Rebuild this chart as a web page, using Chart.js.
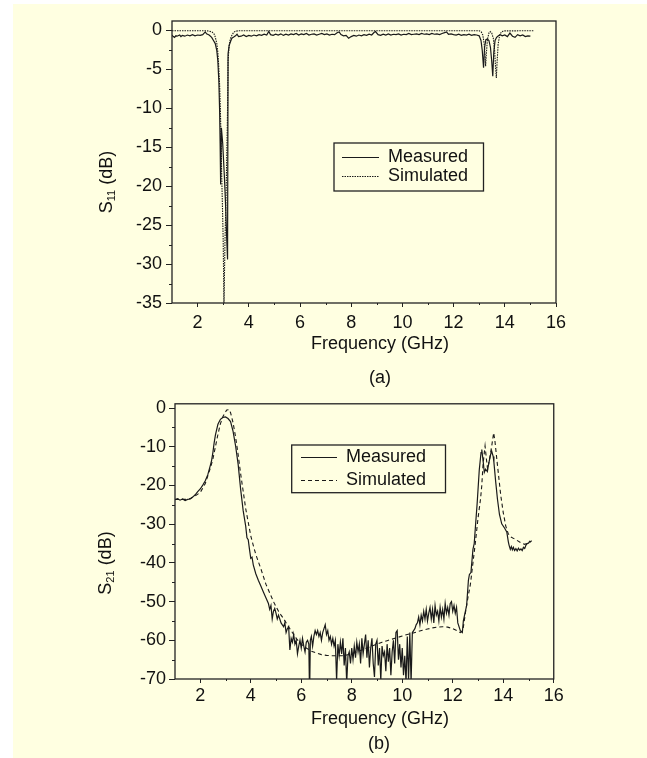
<!DOCTYPE html>
<html>
<head>
<meta charset="utf-8">
<script src="https://cdn.jsdelivr.net/npm/chart.js@4.4.0/dist/chart.umd.min.js"></script>
<style>
  html, body { margin:0; padding:0; background:#ffffff; width:647px; height:758px; overflow:hidden; }
  #bg { position:absolute; left:13px; top:4px; width:634px; height:754px; background:#FFFFE1; }
  .cv { position:absolute; left:0; }
  .lbl { position:absolute; font-family:"Liberation Sans", Arial, sans-serif; font-size:18px; color:#111;
         white-space:nowrap; line-height:1; transform:translate(-50%,-50%); }
  .rot { transform:translate(-50%,-50%) rotate(-90deg); }
  .lbl sub { font-size:11px; vertical-align:-3px; line-height:0; }
</style>
</head>
<body>
<div id="bg"></div>
<canvas id="c1" class="cv" style="top:0px" width="647" height="390"></canvas>
<canvas id="c2" class="cv" style="top:390px" width="647" height="368"></canvas>

<div class="lbl rot" style="left:106px;top:182px">S<sub>11</sub> (dB)</div>
<div class="lbl" style="left:380px;top:343px">Frequency (GHz)</div>
<div class="lbl" style="left:380px;top:377px">(a)</div>
<div class="lbl rot" style="left:105px;top:563px">S<sub>21</sub> (dB)</div>
<div class="lbl" style="left:380px;top:718px">Frequency (GHz)</div>
<div class="lbl" style="left:379px;top:743px">(b)</div>

<script>
// ---------------- DATA ----------------
const xMajorTicks = [2, 4, 6, 8, 10, 12, 14, 16];
const xMinorTicks = [3, 5, 7, 9, 11, 13, 15];
const s11MajorTicks = [-35, -30, -25, -20, -15, -10, -5, 0];
const s11MinorTicks = [-32.5, -27.5, -22.5, -17.5, -12.5, -7.5, -2.5];
const s21MajorTicks = [-70, -60, -50, -40, -30, -20, -10, 0];
const s21MinorTicks = [-65, -55, -45, -35, -25, -15, -5];
const seriesNames = ["Measured", "Simulated"];

// S11 measured [GHz, dB]
const s11Measured = [
  [1.0,-0.6],[1.05,-0.8],[1.1,-0.9],[1.15,-0.7],[1.2,-0.75],[1.3,-0.6],[1.35,-0.8],[1.4,-0.65],[1.5,-0.75],
  [1.6,-0.6],[1.7,-0.7],[1.8,-0.55],[1.9,-0.7],[2.0,-0.6],[2.1,-0.65],[2.2,-0.55],[2.3,-0.2],[2.35,-0.45],
  [2.45,-0.6],[2.55,-0.9],[2.62,-1.3],[2.69,-1.7],[2.75,-2.6],[2.79,-3.9],[2.83,-6.5],[2.86,-10.3],[2.88,-14.5],
  [2.9,-19.8],[2.93,-12.5],[2.98,-14.5],[3.05,-19],[3.1,-23],[3.14,-27],[3.17,-29.4],[3.19,-3.0],[3.23,-2.0],
  [3.28,-1.5],[3.34,-1.0],[3.41,-0.86],[3.48,-0.7],[3.54,-0.5],[3.6,-0.8],[3.7,-0.75],[3.8,-0.6],[3.9,-0.8],
  [4.0,-0.65],[4.1,-0.75],[4.2,-0.6],[4.3,-0.7],[4.4,-0.55],[4.5,-0.65],[4.6,-0.5],[4.7,-0.6],[4.78,-0.15],
  [4.85,-0.55],[4.95,-0.65],[5.05,-0.5],[5.15,-0.6],[5.25,-0.45],[5.35,-0.65],[5.45,-0.5],[5.55,-0.6],[5.65,-0.45],
  [5.75,-0.55],[5.85,-0.4],[5.95,-0.6],[6.05,-0.45],[6.15,-0.55],[6.25,-0.4],[6.35,-0.6],[6.45,-0.5],[6.55,-0.45],
  [6.65,-0.6],[6.75,-0.5],[6.85,-0.4],[6.95,-0.55],[7.05,-0.45],[7.15,-0.6],[7.25,-0.5],[7.35,-0.55],[7.45,-0.3],
  [7.53,-0.2],[7.6,-0.55],[7.7,-0.7],[7.8,-0.65],[7.9,-1.0],[8.0,-0.8],[8.1,-0.65],[8.2,-0.75],[8.3,-0.6],
  [8.4,-0.7],[8.5,-0.55],[8.6,-0.65],[8.7,-0.5],[8.8,-0.6],[8.9,-0.25],[8.95,-0.15],[9.05,-0.55],[9.15,-0.65],
  [9.25,-0.5],[9.35,-0.6],[9.45,-0.45],[9.55,-0.6],[9.65,-0.5],[9.75,-0.55],[9.85,-0.45],[9.95,-0.6],[10.05,-0.5],
  [10.15,-0.55],[10.25,-0.4],[10.35,-0.55],[10.45,-0.5],[10.55,-0.45],[10.65,-0.55],[10.75,-0.4],[10.85,-0.5],
  [10.95,-0.45],[11.05,-0.55],[11.15,-0.4],[11.25,-0.5],[11.35,-0.45],[11.45,-0.55],[11.55,-0.4],[11.65,-0.3],
  [11.72,-0.2],[11.8,-0.5],[11.9,-0.45],[12.0,-0.55],[12.1,-0.6],[12.2,-0.5],[12.3,-0.65],[12.4,-0.55],[12.5,-0.6],
  [12.6,-0.5],[12.7,-0.65],[12.8,-0.55],[12.9,-0.6],[13.0,-0.7],[13.07,-1.3],[13.12,-2.6],[13.17,-4.8],[13.21,-2.2],
  [13.26,-1.2],[13.32,-1.1],[13.38,-1.3],[13.44,-2.2],[13.49,-4.0],[13.53,-5.9],[13.57,-2.8],[13.62,-1.3],
  [13.68,-0.9],[13.75,-0.7],[13.82,-0.55],[13.9,-0.7],[14.0,-0.6],[14.1,-0.8],[14.2,-0.35],[14.3,-0.75],
  [14.4,-0.9],[14.5,-0.55],[14.6,-0.7],[14.7,-0.6],[14.8,-0.8],[14.9,-0.7],[15.0,-0.75]
];

// S11 simulated [GHz, dB]
const s11Simulated = [
  [1.0,-0.05],[2.3,-0.05],[2.45,-0.1],[2.56,-0.2],[2.64,-0.45],[2.69,-0.86],[2.75,-1.7],[2.79,-2.8],[2.82,-4.3],
  [2.86,-7.0],[2.89,-10.3],[2.92,-14.5],[2.94,-18.4],[2.97,-22.5],[3.0,-27],[3.03,-35.5],[3.07,-27],[3.1,-23],
  [3.12,-19.8],[3.14,-16],[3.16,-12.4],[3.18,-7.5],[3.19,-3.9],[3.24,-1.7],[3.29,-1.0],[3.34,-0.64],[3.4,-0.3],
  [3.47,-0.12],[3.6,-0.05],[13.0,-0.05],[13.08,-0.2],[13.14,-0.6],[13.19,-1.6],[13.23,-3.2],[13.25,-4.6],
  [13.28,-3.0],[13.32,-1.2],[13.38,-0.35],[13.43,-0.15],[13.49,-0.35],[13.55,-1.0],[13.6,-2.5],[13.64,-4.8],
  [13.67,-6.1],[13.7,-4.0],[13.74,-1.8],[13.8,-0.6],[13.87,-0.2],[13.95,-0.07],[15.15,-0.05]
];

// S21 measured [GHz, dB]
const s21Measured = [
  [1.0,-23.7],[1.1,-23.4],[1.2,-23.8],[1.3,-23.5],[1.4,-23.9],[1.5,-23.6],[1.6,-23.5],[1.7,-23.0],[1.8,-22.4],
  [1.9,-21.6],[2.0,-20.9],[2.1,-19.9],[2.2,-18.8],[2.3,-17.2],[2.4,-14.8],[2.45,-13.5],[2.5,-11.5],[2.55,-9.0],
  [2.6,-7.0],[2.65,-5.6],[2.7,-4.2],[2.8,-2.9],[2.9,-2.4],[3.0,-2.3],[3.1,-2.7],[3.2,-3.5],[3.3,-6.0],[3.4,-9.8],
  [3.5,-14.5],[3.6,-21.0],[3.7,-26.5],[3.8,-30.5],[3.85,-33.5],[3.9,-34.0],[3.95,-36.5],[4.0,-38.8],[4.05,-38.5],
  [4.1,-40.5],[4.2,-42.8],[4.3,-44.5],[4.4,-46.0],[4.5,-47.5],[4.6,-49.0],[4.7,-50.5],[4.75,-52.0],[4.8,-51.0],
  [4.85,-54.5],[4.9,-52.5],[4.95,-51.8],[5.0,-53.0],[5.05,-54.5],[5.1,-53.5],[5.2,-55.5],[5.3,-56.5],[5.35,-55.5],
  [5.4,-58.0],[5.45,-57.0],[5.5,-56.5],[5.55,-62.5],[5.6,-59.5],[5.65,-60.5],[5.7,-58.5],[5.75,-61.0],[5.8,-60.0],
  [5.85,-63.5],[5.9,-61.5],[5.95,-60.0],[6.0,-62.0],[6.05,-59.5],[6.1,-61.5],[6.15,-63.0],[6.2,-60.5],[6.25,-60.0],
  [6.3,-61.0],[6.33,-75],[6.36,-60.0],[6.4,-59.0],[6.45,-61.5],[6.5,-59.0],[6.55,-57.5],[6.6,-58.5],[6.65,-57.5],
  [6.7,-59.0],[6.75,-58.0],[6.8,-60.0],[6.85,-58.0],[6.9,-57.0],[6.95,-56.0],[7.0,-58.5],[7.05,-57.5],[7.1,-60.0],
  [7.15,-59.0],[7.2,-61.0],[7.25,-59.5],[7.3,-61.5],[7.35,-60.0],[7.4,-70.5],[7.45,-61],[7.5,-64],[7.55,-60.5],
  [7.6,-63.5],[7.65,-59.5],[7.7,-66.5],[7.75,-62],[7.8,-71],[7.85,-64],[7.9,-63],[7.95,-66],[8.0,-62],[8.05,-65],
  [8.1,-61.5],[8.15,-64.5],[8.2,-60.5],[8.25,-63],[8.3,-61],[8.35,-66],[8.4,-59.5],[8.45,-63.5],[8.5,-61.0],
  [8.55,-58.5],[8.6,-64.5],[8.65,-60],[8.7,-67],[8.75,-62],[8.8,-59.5],[8.85,-66],[8.9,-69.5],[8.95,-61],[9.0,-60],
  [9.05,-66.5],[9.1,-62],[9.15,-70.5],[9.2,-61.5],[9.25,-64],[9.3,-63],[9.35,-68],[9.4,-61],[9.45,-65.5],[9.5,-62],
  [9.55,-69],[9.6,-63],[9.65,-60],[9.7,-66],[9.75,-58],[9.8,-57.5],[9.85,-65],[9.9,-61],[9.95,-67],[10.0,-62],
  [10.05,-69],[10.1,-64],[10.15,-71],[10.2,-59],[10.25,-70.5],[10.3,-58],[10.35,-71],[10.4,-58],[10.45,-57.5],
  [10.5,-57],[10.55,-56],[10.6,-55.5],[10.65,-54],[10.7,-56],[10.75,-53.5],[10.8,-55],[10.85,-52.5],[10.9,-54.5],
  [10.95,-52],[11.0,-55],[11.05,-53],[11.1,-51.5],[11.15,-54.5],[11.2,-52],[11.25,-55.5],[11.3,-51],[11.35,-53.5],
  [11.4,-52.5],[11.45,-55.0],[11.5,-51.5],[11.55,-54],[11.6,-52],[11.65,-54.5],[11.7,-50.5],[11.75,-53],[11.8,-51.5],
  [11.85,-53.5],[11.9,-50.5],[11.95,-50],[12.0,-52.5],[12.05,-51],[12.1,-53],[12.15,-51.5],[12.2,-55.5],[12.3,-57.5],
  [12.38,-58.0],[12.42,-55.0],[12.5,-52.5],[12.55,-51.0],[12.62,-44.5],[12.66,-43.0],[12.72,-42.5],[12.8,-36.5],
  [12.85,-35.0],[12.9,-30.5],[12.97,-24.3],[13.05,-16],[13.12,-11.5],[13.15,-10.7],[13.2,-13.5],[13.25,-16.6],
  [13.3,-15.8],[13.37,-16.4],[13.42,-14.5],[13.5,-12.0],[13.54,-11.1],[13.6,-12.5],[13.63,-14.0],[13.7,-19.0],
  [13.77,-23.5],[13.85,-27.5],[13.94,-29.9],[14.05,-31.0],[14.14,-32.0],[14.2,-34.5],[14.23,-35.4],[14.28,-36.5],
  [14.32,-35.8],[14.36,-36.6],[14.4,-36.0],[14.45,-36.8],[14.5,-36.3],[14.55,-36.9],[14.6,-36.2],[14.65,-36.7],
  [14.7,-36.4],[14.75,-36.8],[14.8,-36.0],[14.85,-36.3],[14.9,-35.4],[14.95,-35.0],[15.0,-34.9],[15.05,-34.4],
  [15.1,-34.6]
];

// S21 simulated [GHz, dB]
const s21Simulated = [
  [1.0,-23.6],[1.2,-23.6],[1.4,-23.6],[1.6,-23.4],[1.8,-22.7],[2.0,-21.8],[2.2,-19.5],[2.4,-15.5],[2.5,-13.2],
  [2.6,-10.0],[2.7,-6.8],[2.8,-4.0],[2.9,-2.2],[3.0,-1.0],[3.05,-0.5],[3.15,-0.4],[3.2,-1.2],[3.3,-3.8],[3.4,-7.5],
  [3.5,-12.0],[3.6,-17.0],[3.7,-21.5],[3.8,-26.0],[3.9,-29.5],[4.0,-33.0],[4.1,-35.5],[4.2,-37.8],[4.3,-39.7],
  [4.4,-41.5],[4.5,-43.5],[4.6,-45.5],[4.7,-47.0],[4.8,-48.5],[4.9,-50.0],[5.0,-51.3],[5.1,-52.5],[5.2,-53.5],
  [5.3,-54.4],[5.4,-55.5],[5.5,-56.5],[5.6,-57.5],[5.7,-58.5],[5.8,-59.5],[5.9,-60.3],[6.0,-61.0],[6.2,-62.0],
  [6.4,-62.8],[6.6,-63.3],[6.8,-63.7],[7.0,-63.9],[7.2,-64.0],[7.4,-64.0],[7.6,-64.0],[7.8,-63.8],[8.0,-63.5],
  [8.2,-63.0],[8.4,-62.5],[8.6,-62.0],[8.8,-61.5],[9.0,-61.0],[9.2,-60.5],[9.4,-60.1],[9.6,-59.7],[9.8,-59.3],
  [10.0,-58.9],[10.2,-58.5],[10.4,-58.2],[10.6,-57.8],[10.8,-57.4],[11.0,-57.1],[11.2,-56.8],[11.4,-56.6],
  [11.6,-56.5],[11.8,-56.6],[12.0,-57.0],[12.2,-57.6],[12.3,-58.0],[12.4,-57.5],[12.5,-53.0],[12.6,-49.0],
  [12.7,-45.5],[12.8,-40.0],[12.9,-34.5],[13.0,-28.5],[13.1,-23.5],[13.15,-20],[13.2,-14.5],[13.28,-9.8],
  [13.33,-13.0],[13.38,-15.8],[13.45,-13.5],[13.55,-9.5],[13.62,-6.4],[13.67,-8.5],[13.75,-13.5],[13.8,-16.5],
  [13.9,-22.5],[14.0,-27.0],[14.1,-30.5],[14.2,-32.5],[14.3,-33.3],[14.5,-34.0],[14.7,-34.8],[14.85,-35.2],
  [15.0,-34.8],[15.13,-34.3]
];

// ---------------- PLUGINS ----------------
const FONT = '"Liberation Sans", Arial, sans-serif';
const TEXT = '#111111';
const INK = '#1a1a1a';

const framePlugin = {
  id: 'frame',
  afterDraw(chart, args, o) {
    const { ctx, chartArea: a, scales } = chart;
    ctx.save();
    ctx.strokeStyle = o.color;
    ctx.lineWidth = 1;
    ctx.beginPath();
    o.xMinor.forEach(v => {
      const px = Math.round(scales.x.getPixelForValue(v)) + 0.5;
      ctx.moveTo(px, a.bottom); ctx.lineTo(px, a.bottom + o.xMinorLen);
    });
    o.yMinor.forEach(v => {
      const py = Math.round(scales.y.getPixelForValue(v)) + 0.5;
      ctx.moveTo(a.left - o.yMinorLen, py); ctx.lineTo(a.left, py);
    });
    ctx.stroke();
    ctx.lineWidth = o.width;
    ctx.strokeRect(a.left, a.top, a.right - a.left, a.bottom - a.top);
    ctx.restore();
  }
};

const boxLegend = {
  id: 'boxLegend',
  afterDraw(chart, args, o) {
    const ctx = chart.ctx;
    ctx.save();
    ctx.strokeStyle = o.borderColor;
    ctx.lineWidth = o.borderWidth;
    ctx.strokeRect(o.left, o.top, o.width, o.height);
    ctx.font = '18px ' + FONT;
    ctx.fillStyle = TEXT;
    ctx.textBaseline = 'middle';
    ctx.textAlign = 'left';
    chart.data.datasets.forEach((ds, i) => {
      const y = Math.round(o.top + o.firstRow + i * o.rowGap) + 0.5;
      ctx.beginPath();
      ctx.setLineDash(ds.borderDash || []);
      ctx.lineWidth = ds.borderWidth;
      ctx.strokeStyle = ds.borderColor;
      ctx.moveTo(o.left + o.lineX0, y);
      ctx.lineTo(o.left + o.lineX1, y);
      ctx.stroke();
      ctx.setLineDash([]);
      ctx.fillText(ds.label, o.left + o.textX, y);
    });
    ctx.restore();
  }
};

function toXY(arr) { return arr.map(p => ({ x: p[0], y: p[1] })); }

function makeChart(id, cfg) {
  return new Chart(document.getElementById(id), {
    type: 'line',
    data: {
      datasets: [
        { label: seriesNames[0], data: toXY(cfg.measured), borderColor: INK, borderWidth: 1.2,
          pointRadius: 0, tension: 0, fill: false },
        { label: seriesNames[1], data: toXY(cfg.simulated), borderColor: INK, borderWidth: cfg.simWidth,
          borderDash: cfg.simDash, pointRadius: 0, tension: 0, fill: false }
      ]
    },
    options: {
      responsive: false,
      animation: false,
      devicePixelRatio: 1,
      layout: { padding: cfg.padding },
      plugins: {
        legend: { display: false },
        tooltip: { enabled: false },
        frame: { color: '#222', width: 1.3, xMinor: xMinorTicks, yMinor: cfg.yMinor, xMinorLen: 2, yMinorLen: 3 },
        boxLegend: cfg.legend
      },
      scales: {
        x: {
          type: 'linear', min: 1, max: 16,
          afterBuildTicks: s => { s.ticks = xMajorTicks.map(v => ({ value: v })); },
          afterFit: s => { s.height = cfg.xAxisHeight; },
          grid: { display: true, drawOnChartArea: false, drawTicks: true, tickLength: 4, tickColor: '#222', tickWidth: 1 },
          border: { display: false },
          ticks: { autoSkip: false, maxRotation: 0, padding: cfg.xTickPad, color: TEXT, font: { family: FONT, size: 18 } }
        },
        y: {
          type: 'linear', min: cfg.yMin, max: cfg.yMax,
          afterBuildTicks: s => { s.ticks = cfg.yMajor.map(v => ({ value: v })); },
          afterFit: s => { s.width = cfg.yAxisWidth; },
          grid: { display: true, drawOnChartArea: false, drawTicks: true, tickLength: 6, tickColor: '#222', tickWidth: 1 },
          border: { display: false },
          ticks: { padding: cfg.yTickPad, color: TEXT, font: { family: FONT, size: 18 } }
        }
      }
    },
    plugins: [framePlugin, boxLegend]
  });
}

// chart (a): chart area approx left 172, right 556, top 21, bottom 303
makeChart('c1', {
  measured: s11Measured, simulated: s11Simulated,
  simDash: [1.5, 1], simWidth: 1.1,
  yMin: -35, yMax: 1.2, yMajor: s11MajorTicks, yMinor: s11MinorTicks,
  padding: { left: 60, right: 91, top: 21, bottom: 47 },
  yAxisWidth: 112, xAxisHeight: 40, xTickPad: 5, yTickPad: 4,
  legend: { left: 334, top: 143, width: 149.5, height: 48, borderColor: '#222', borderWidth: 1.3,
            firstRow: 14, rowGap: 19, lineX0: 8, lineX1: 45, textX: 54 }
});

// chart (b): chart area approx left 175, right 553.75, top 401.7, bottom 679 (canvas top 390)
makeChart('c2', {
  measured: s21Measured, simulated: s21Simulated,
  simDash: [4, 3], simWidth: 1.1,
  yMin: -70, yMax: 1.1, yMajor: s21MajorTicks, yMinor: s21MinorTicks,
  padding: { left: 60, right: 93.25, top: 11.7, bottom: 39 },
  yAxisWidth: 115, xAxisHeight: 40, xTickPad: 2, yTickPad: 3,
  legend: { left: 291.7, top: 55, width: 153.8, height: 47.7, borderColor: '#222', borderWidth: 1.3,
            firstRow: 12.3, rowGap: 22.7, lineX0: 9.3, lineX1: 45.3, textX: 54.3 }
});
</script>
</body>
</html>
